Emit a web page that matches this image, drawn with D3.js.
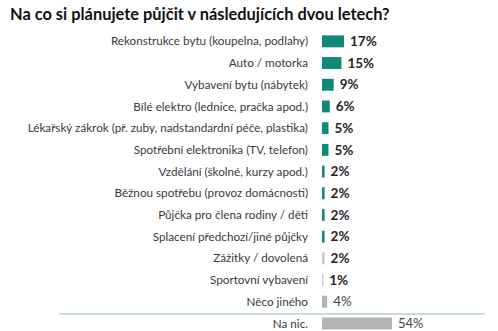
<!DOCTYPE html>
<html><head><meta charset="utf-8">
<script src="https://cdn.jsdelivr.net/npm/d3@7"></script>
<style>body{margin:0;background:#fff}svg{display:block}</style>
</head><body>
<script>
const title = "Na co si plánujete půjčit v následujících dvou letech?";
const categories = [
  "Rekonstrukce bytu (koupelna, podlahy)",
  "Auto / motorka",
  "Vybavení bytu (nábytek)",
  "Bílé elektro (lednice, pračka apod.)",
  "Lékařský zákrok (př. zuby, nadstandardní péče, plastika)",
  "Spotřební elektronika (TV, telefon)",
  "Vzdělání (školné, kurzy apod.)",
  "Běžnou spotřebu (provoz domácnosti)",
  "Půjčka pro člena rodiny / děti",
  "Splacení předchozí/jiné půjčky",
  "Zážitky / dovolená",
  "Sportovní vybavení",
  "Něco jiného",
  "Na nic."
];
const values = [17, 15, 9, 6, 5, 5, 2, 2, 2, 2, 2, 1, 4, 54];
const valueLabels = ["17%","15%","9%","6%","5%","5%","2%","2%","2%","2%","2%","1%","4%","54%"];
const groups = ["t","t","t","t","t","t","t","t","t","t","g","g","g","g"];

const W = 498, H = 331;
const svg = d3.select("body").append("svg").attr("width", W).attr("height", H);

svg.append("text").attr("x", 10).attr("y", 20)
  .attr("font-family", "Lato, sans-serif").attr("font-weight", "bold")
  .attr("font-size", 16.4).attr("fill", "#111").text(title);

const x = d3.scaleLinear().domain([0, 54]).range([322, 392]);
const y = d3.scaleBand().domain(categories).range([30.5, 30.5 + 14 * 21.7]).paddingInner(0.45).paddingOuter(0.225);

const color = g => g === "t" ? "#11897a" : "#b3b3b3";
const data = categories.map((c, i) => ({c, v: values[i], l: valueLabels[i], g: groups[i], i}));

// separator
svg.append("line").attr("x1", 59).attr("x2", 485)
  .attr("y1", y("Na nic.") - 3.5).attr("y2", y("Na nic.") - 3.5)
  .attr("stroke", "#8fb6c2").attr("stroke-width", 1);

const rows = svg.selectAll("g.row").data(data).join("g").attr("class", "row");

rows.append("text").attr("x", 308).attr("y", d => y(d.c) + y.bandwidth() / 2)
  .attr("dy", "0.35em").attr("text-anchor", "end")
  .attr("font-family", "Lato, sans-serif").attr("font-size", 11.7)
  .attr("fill", "#3a3a3a").text(d => d.c);

rows.append("rect").attr("x", x(0)).attr("y", d => y(d.c))
  .attr("width", d => x(d.v) - x(0)).attr("height", y.bandwidth())
  .attr("fill", d => d.i === 10 || d.i === 11 ? "#c8c8c8" : color(d.g));

rows.append("text").attr("x", d => x(d.v) + 6).attr("y", d => y(d.c) + y.bandwidth() / 2)
  .attr("dy", "0.35em")
  .attr("font-family", "Lato, sans-serif").attr("font-size", d => d.i === 13 ? 13 : 13.5)
  .attr("font-weight", d => d.i >= 12 ? "normal" : "bold")
  .attr("fill", d => d.i >= 12 ? "#444" : "#262626").text(d => d.l);
</script>
</body></html>
